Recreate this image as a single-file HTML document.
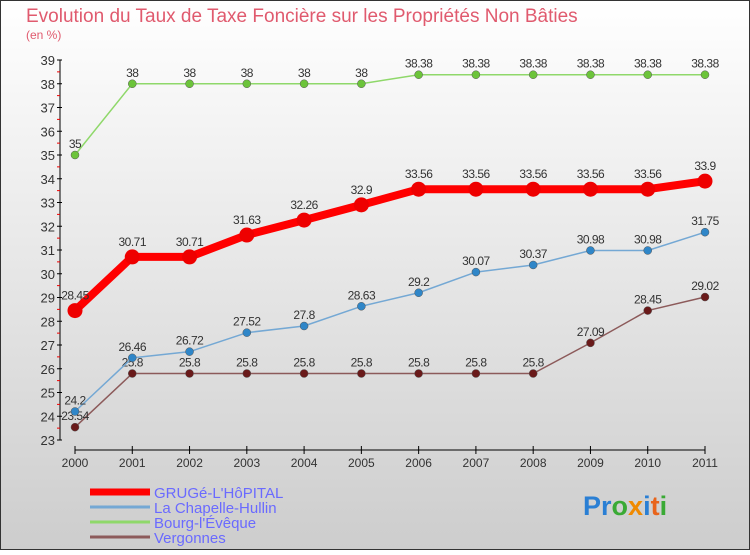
<!DOCTYPE html>
<html><head><meta charset="utf-8"><style>
html,body{margin:0;padding:0}
body{width:750px;height:550px;overflow:hidden;font-family:"Liberation Sans",sans-serif}
</style></head><body>
<svg id="chart" width="750" height="550" xmlns="http://www.w3.org/2000/svg">
<defs><linearGradient id="bg" x1="0" y1="0" x2="0" y2="1"><stop offset="0" stop-color="#ffffff"/><stop offset="1" stop-color="#cdcdcd"/></linearGradient></defs>
<rect x="0.5" y="0.5" width="749" height="549" fill="url(#bg)" stroke="#333"/>
<text x="26" y="22" font-size="19" fill="#e05a6e">Evolution du Taux de Taxe Foncière sur les Propriétés Non Bâties</text>
<text x="26" y="39" font-size="12" fill="#e05a6e">(en %)</text>
<g id="axes"></g><g id="series"></g><g id="legend"></g>
<text x="583" y="515" font-size="27" font-weight="bold"><tspan fill="#2a7fd4">P</tspan><tspan fill="#2a7fd4">r</tspan><tspan fill="#3aaa35">o</tspan><tspan fill="#f08a00">x</tspan><tspan fill="#2a7fd4">i</tspan><tspan fill="#e8641b">t</tspan><tspan fill="#3aaa35">i</tspan></text>
</svg>
<script>
const years=[2000,2001,2002,2003,2004,2005,2006,2007,2008,2009,2010,2011];
const yTicks=[23,24,25,26,27,28,29,30,31,32,33,34,35,36,37,38,39];
const grugeValues=[28.45,30.71,30.71,31.63,32.26,32.9,33.56,33.56,33.56,33.56,33.56,33.9];
const chapelleValues=[24.2,26.46,26.72,27.52,27.8,28.63,29.2,30.07,30.37,30.98,30.98,31.75];
const bourgValues=[35,38,38,38,38,38,38.38,38.38,38.38,38.38,38.38,38.38];
const vergonnesValues=[23.54,25.8,25.8,25.8,25.8,25.8,25.8,25.8,25.8,27.09,28.45,29.02];
const seriesNames=["GRUGé-L'HôPITAL","La Chapelle-Hullin","Bourg-l'Évêque","Vergonnes"];
const NS="http://www.w3.org/2000/svg";
const xS=i=>75+i*(630/11);
const yS=v=>440-(v-23)*23.75;
function mk(p,tag,a){const e=document.createElementNS(NS,tag);for(const k in a)e.setAttribute(k,a[k]);p.appendChild(e);return e;}
const axes=document.getElementById('axes');
let l=mk(axes,'line',{x1:60,y1:60,x2:60,y2:440,stroke:'#000'});


yTicks.forEach(v=>{
  let t=mk(axes,'line',{x1:57,y1:yS(v),x2:62,y2:yS(v),stroke:'#000'});
  
  
  if(v<39){let m=mk(axes,'line',{x1:57,y1:yS(v+0.5),x2:60,y2:yS(v+0.5),stroke:'#e00'});
  
  }
  let tx=mk(axes,'text',{x:55,y:yS(v)+5,'font-size':13,'text-anchor':'end',fill:'#333'});
  
  
  tx.textContent=v;
});
let xa=mk(axes,'line',{x1:75,y1:450,x2:705,y2:450,stroke:'#000'});


years.forEach((y,i)=>{
  let t=mk(axes,'line',{x1:xS(i),y1:446,x2:xS(i),y2:454,stroke:'#000'});
  
  
  let tx=mk(axes,'text',{x:xS(i),y:467,'font-size':12,'text-anchor':'middle',fill:'#333'});
  
  
  tx.textContent=y;
});
const defs=[
 {vals:bourgValues,color:'#8fd86a',dot:'#6cc43a',w:1.5,r:4,name:'series-bourg'},
 {vals:vergonnesValues,color:'#8c5a5a',dot:'#6a1a1a',w:1.5,r:4,name:'series-vergonnes'},
 {vals:chapelleValues,color:'#74a8d4',dot:'#2f86c8',w:1.5,r:4,name:'series-chapelle'},
 {vals:grugeValues,color:'#ff0000',dot:'#ee0000',w:8,r:7.5,name:'series-gruge'}];
const sg=document.getElementById('series');
defs.forEach(d=>{
  const g=mk(sg,'g',{});
  
  
  const pl=mk(g,'polyline',{points:d.vals.map((v,i)=>xS(i)+','+yS(v)).join(' '),fill:'none',stroke:d.color,'stroke-width':d.w,'stroke-linejoin':'round'});
  
  
  d.vals.forEach((v,i)=>{
    const c=mk(g,'circle',{cx:xS(i),cy:yS(v),r:d.r,fill:d.dot,stroke:d.w>2?'none':'#555','stroke-width':0.5});
    
    
    const t=mk(g,'text',{x:xS(i),y:yS(v)-(d.w>2?11:7),'font-size':12,'text-anchor':'middle',fill:'#333','letter-spacing':'-0.5'});
    
    
    t.textContent=v;
  });
});
const lg=document.getElementById('legend');
const lcol=['#ff0000','#74a8d4','#8fd86a','#8c5a5a'];
seriesNames.forEach((n,i)=>{
  const y=492+i*15;
  const ln=mk(lg,'line',{x1:90,y1:y,x2:150,y2:y,stroke:lcol[i],'stroke-width':i==0?7:3});
  
  
  const t=mk(lg,'text',{x:154,y:y+6,'font-size':15,fill:'#6a6aff'});
  
  
  t.textContent=n;
});
</script>
</body></html>
